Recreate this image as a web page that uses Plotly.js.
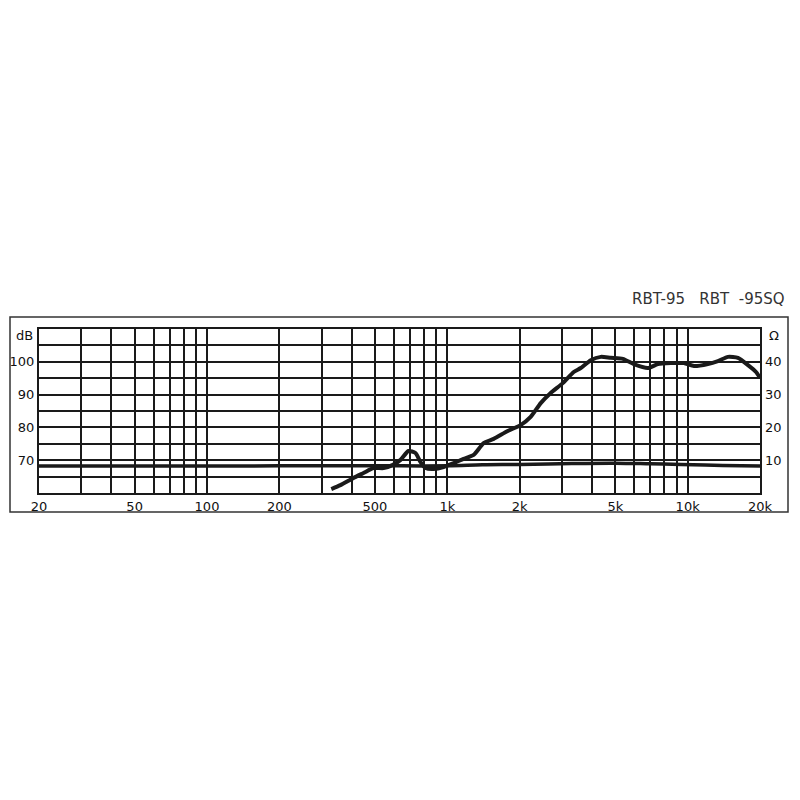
<!DOCTYPE html>
<html>
<head>
<meta charset="utf-8">
<script src="https://cdn.plot.ly/plotly-3.0.1.min.js"></script>
<style>html,body{margin:0;padding:0;background:#fff;}#chart{width:800px;height:800px;}</style>
</head>
<body>
<div id="chart"></div>
<script>
// Frequency response (dB)
const frFreq = [329, 359, 407, 448, 493, 543, 591, 639, 689, 737, 774, 812, 877, 965, 1062, 1169, 1287, 1416, 1559, 1783, 2018, 2222, 2447, 2692, 3022, 3357, 3590, 3952, 4351, 4789, 5374, 5970, 6830, 7516, 8516, 9645, 10618, 12140, 13366, 14712, 16192, 17825, 19253, 20000];
const frDb = [61.2, 62.4, 64.6, 66.1, 67.6, 67.6, 68.5, 70.1, 72.8, 72.2, 69.4, 67.6, 67.3, 67.9, 69.1, 70.4, 71.6, 75.2, 76.5, 78.9, 80.7, 83.2, 87.4, 90.5, 93.5, 96.9, 98.1, 100.5, 101.5, 101.2, 100.9, 99.3, 98.1, 99.3, 99.6, 99.6, 98.7, 99.3, 100.2, 101.5, 101.2, 99.0, 96.9, 95.1];
// Impedance (Ohm)
const impFreq = [20, 50, 100, 200, 500, 1000, 1400, 2000, 3300, 5000, 7000, 9400, 14000, 20000];
const impOhm = [8.2, 8.2, 8.2, 8.3, 8.3, 8.3, 8.6, 8.7, 9.0, 9.1, 8.9, 8.7, 8.4, 8.2];

const xGrid = [20,30,40,50,60,70,80,90,100,200,300,400,500,600,700,800,900,1000,2000,3000,4000,5000,6000,7000,8000,9000,10000,20000];
const xLabels = {20:'20',50:'50',100:'100',200:'200',500:'500',1000:'1k',2000:'2k',5000:'5k',10000:'10k',20000:'20k'};
const dbGrid = [60,65,70,75,80,85,90,95,100,105,110];
const dbLabels = {70:'70',80:'80',90:'90',100:'100'};
const ohmTicks = [10,20,30,40];
const titleText = 'RBT-95\u00a0\u00a0 RBT\u00a0 -95SQ';

const ink = '#1a1a1a';
const font = {family: 'DejaVu Sans, Verdana, sans-serif', size: 13, color: '#111'};

const data = [
  {x: impFreq, y: impOhm, yaxis: 'y2', mode: 'lines', line: {color: ink, width: 3.5, shape: 'spline'}, hoverinfo: 'skip'},
  {x: frFreq, y: frDb, mode: 'lines', line: {color: ink, width: 4, shape: 'spline', smoothing: 0.6}, hoverinfo: 'skip'}
];

const layout = {
  width: 800, height: 800,
  margin: {l: 39, r: 40, t: 329, b: 307},
  paper_bgcolor: '#fff', plot_bgcolor: '#fff',
  showlegend: false,
  font: font,
  xaxis: {
    type: 'log',
    range: [Math.log10(20), Math.log10(20000)],
    tickmode: 'array',
    tickvals: xGrid,
    ticktext: xGrid.map(v => xLabels[v] || ''),
    showgrid: true, gridcolor: ink, gridwidth: 2,
    showline: true, mirror: true, linecolor: ink, linewidth: 2,
    ticks: '', zeroline: false, fixedrange: true,
    tickfont: font
  },
  yaxis: {
    range: [60, 110],
    tickmode: 'array',
    tickvals: dbGrid,
    ticktext: dbGrid.map(v => dbLabels[v] || ''),
    showgrid: true, gridcolor: ink, gridwidth: 2,
    showline: true, mirror: true, linecolor: ink, linewidth: 2,
    ticks: '', zeroline: false, fixedrange: true,
    tickfont: font
  },
  yaxis2: {
    overlaying: 'y', side: 'right',
    range: [0, 50],
    tickmode: 'array',
    tickvals: ohmTicks,
    ticktext: ohmTicks.map(String),
    showgrid: false, zeroline: false, showline: false,
    ticks: '', fixedrange: true, ticklabelstandoff: 4,
    tickfont: font
  },
  shapes: [
    {type: 'rect', xref: 'paper', yref: 'paper',
     x0: (10-39)/721, x1: (788-39)/721, y0: -(512-493)/164, y1: 1 + (329-317)/164,
     line: {color: '#333', width: 1.5}, fillcolor: 'rgba(0,0,0,0)', layer: 'below'}
  ],
  annotations: [
    {text: 'dB', xref: 'paper', yref: 'y', x: 0, y: 108, xanchor: 'right', yanchor: 'middle', xshift: -4, showarrow: false, font: font},
    {text: '\u03a9', xref: 'paper', yref: 'y', x: 1, y: 108, xanchor: 'left', yanchor: 'middle', xshift: 7, showarrow: false, font: font},
    {text: titleText, xref: 'paper', yref: 'paper', x: (787-39)/721, y: 1 + (329-299)/164, xanchor: 'right', yanchor: 'middle', showarrow: false,
     font: {family: 'DejaVu Sans, Verdana, sans-serif', size: 15, color: '#333'}}
  ]
};

Plotly.newPlot('chart', data, layout, {staticPlot: true, displayModeBar: false});
</script>
</body>
</html>
